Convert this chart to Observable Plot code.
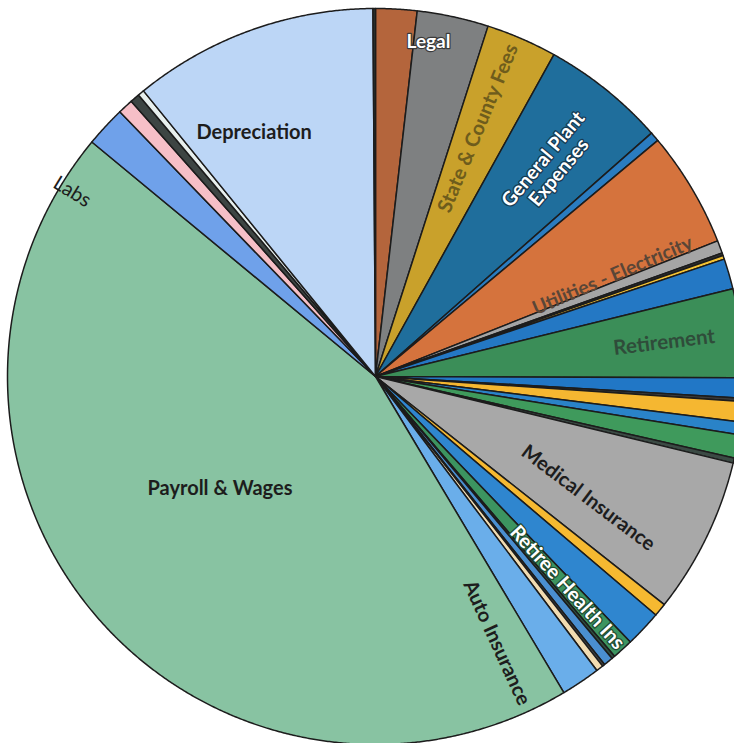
<!DOCTYPE html>
<html>
<head>
<meta charset="utf-8">
<script src="https://cdn.jsdelivr.net/npm/d3@7"></script>
<script src="https://cdn.jsdelivr.net/npm/@observablehq/plot@0.6"></script>
<style>
  html, body { margin: 0; padding: 0; background: #ffffff; overflow: hidden; }
  #chart svg { display: block; }
</style>
</head>
<body>
<div id="chart"></div>
<script>
// ---- Data: expense categories in clockwise order from 12 o'clock ----
const categories = [
  "Legal (fees)", "Legal", "State & County Fees", "General Plant Expenses", "Plant Misc.",
  "Utilities - Electricity", "Utilities - Gas", "Utilities - Water", "Utilities - Other", "Utilities - Phone",
  "Retirement", "Payroll Taxes", "Workers Comp", "Unemployment", "Life Insurance", "Dental", "Other Benefits",
  "Medical Insurance", "Vision", "Liability Insurance", "Retiree Health Ins", "Retiree Other",
  "Property Insurance", "Bond Fees", "Postage", "Auto Insurance",
  "Payroll & Wages", "Labs", "Training", "Dues", "Supplies", "Depreciation", "Misc."
];
// share of total expenses (percent)
const shares = [
  1.81, 3.14, 3.11, 5.44, 0.42,
  5.08, 0.56, 0.11, 0.17, 1.33,
  3.89, 0.89, 0.14, 0.89, 0.56, 1.03, 0.22,
  6.86, 0.58, 1.61, 0.92, 0.14,
  0.42, 0.11, 0.31, 1.72,
  44.56, 1.78, 0.67, 0.42, 0.28, 10.75, 0.11
];
const sliceColors = [
  "#b4653c", "#7e8081", "#c9a12b", "#1f6e9c", "#2a7cc0",
  "#d5733d", "#a5a5a5", "#333333", "#f3c233", "#2478c4",
  "#3b8e58", "#2177c6", "#3a3a3a", "#f5b731", "#2a83c8", "#3f9a5c", "#3b4a44",
  "#a8a8a8", "#f6b931", "#2f86cf", "#3c9460", "#2f4f40",
  "#4a8fd0", "#444444", "#f2dcb1", "#6aaeea",
  "#88c3a2", "#6fa1ea", "#f6bfc7", "#3d4543", "#e8f0ee", "#bcd6f6", "#2b3330"
];

// Labels shown on the chart and which slice they belong to
const labelTexts = ["Legal", "State & County Fees", "General Plant\nExpenses", "Utilities - Electricity",
  "Retirement", "Medical Insurance", "Retiree Health Ins", "Auto Insurance",
  "Payroll & Wages", "Depreciation", "Labs"];
const labelSlices = ["Legal", "State & County Fees", "General Plant Expenses", "Utilities - Electricity",
  "Retirement", "Medical Insurance", "Retiree Health Ins", "Payroll & Wages",
  "Payroll & Wages", "Depreciation", "Payroll & Wages"];

// ---- Layout (not data) ----
const W = 734, H = 743, CX = 375, CY = 376, R = 368;
// placement within slice: fraction along slice angle, radius fraction, rotation
const placement = [
  {f: 0.22, r: 0.92, rot: 0,         style: "halo",  size: 19},
  {f: 0.41, r: 0.73, rot: "radial",  style: "gold",  size: 20},
  {f: 0.55, r: 0.745, rot: "radial", style: "haloB", size: 19.5},
  {f: 0.92, r: 0.70, rot: "radial",  style: "brown", size: 19.5},
  {f: 0.50, r: 0.79, rot: "radial",  style: "green", size: 20.5},
  {f: 0.65, r: 0.666, rot: 37,       style: "dark",  size: 20},
  {f: 0.45, r: 0.775, rot: "radial", style: "haloG", size: 20},
  {f: 0.039, r: 0.795, rot: "radial", style: "dark", size: 20},
  {f: 0.531, r: 0.52, rot: 0,        style: "dark",  size: 20},
  {f: 0.326, r: 0.74, rot: 0,        style: "dark",  size: 20},
  {f: 0.949, r: 0.965, rot: "radial", style: "plain", size: 20}
];

const n = Math.min(categories.length, shares.length, sliceColors.length);
const arcs = d3.pie().sort(null).value(d => d.v)(
  d3.range(n).map(i => ({name: categories[i], v: shares[i], color: sliceColors[i]}))
);

// polygon points for each slice (unit radius, y up)
const points = [];
arcs.forEach((a, i) => {
  const key = "s" + i;
  points.push({key, x: 0, y: 0, color: a.data.color});
  const steps = Math.max(2, Math.ceil((a.endAngle - a.startAngle) / (Math.PI / 720)));
  for (let k = 0; k <= steps; k++) {
    const t = a.startAngle + (a.endAngle - a.startAngle) * k / steps;
    points.push({key, x: Math.sin(t), y: Math.cos(t), color: a.data.color});
  }
  points.push({key, x: 0, y: 0, color: a.data.color});
});

const labels = labelTexts.map((text, i) => {
  const a = arcs.find(d => d.data.name === labelSlices[i]);
  const p = placement[i];
  const t = a.startAngle + p.f * (a.endAngle - a.startAngle);
  const deg = t * 180 / Math.PI;
  let rot = p.rot;
  if (rot === "radial") rot = deg <= 180 ? deg - 90 : deg - 270;
  return {text, x: p.r * Math.sin(t), y: p.r * Math.cos(t), rotate: rot, style: p.style, size: p.size};
});

const styles = {
  halo:  {fill: "#ffffff", stroke: "#3a3a3a", strokeWidth: 2.4},
  haloB: {fill: "#ffffff", stroke: "#163a52", strokeWidth: 2.6},
  haloG: {fill: "#ffffff", stroke: "#1f4d33", strokeWidth: 2.6},
  gold:  {fill: "#6e5c1c"},
  brown: {fill: "#5a4637"},
  green: {fill: "#2f4c3a"},
  dark:  {fill: "#1d1d1d"},
  plain: {fill: "#1d1d1d", fontWeight: 400}
};

const textMarks = Object.entries(styles).map(([k, s]) =>
  Plot.text(labels.filter(d => d.style === k), {
    x: "x", y: "y", text: "text", rotate: "rotate", fontSize: "size",
    fontFamily: "Lato, 'Open Sans', sans-serif",
    fontWeight: s.fontWeight ?? 700,
    lineHeight: 1.05,
    fill: s.fill,
    ...(s.stroke ? {stroke: s.stroke, strokeWidth: s.strokeWidth} : {})
  })
);

const chart = Plot.plot({
  width: W,
  height: H,
  margin: 0,
  x: {domain: [-CX / R, (W - CX) / R], axis: null},
  y: {domain: [-(H - CY) / R, CY / R], axis: null},
  color: {type: "identity"},
  marks: [
    Plot.line(points, {
      x: "x", y: "y", z: "key", fill: "color",
      stroke: "#1c1c1c", strokeWidth: 1.5, strokeLinejoin: "round", curve: "linear"
    }),
    ...textMarks
  ]
});
document.getElementById("chart").appendChild(chart);
</script>
</body>
</html>
